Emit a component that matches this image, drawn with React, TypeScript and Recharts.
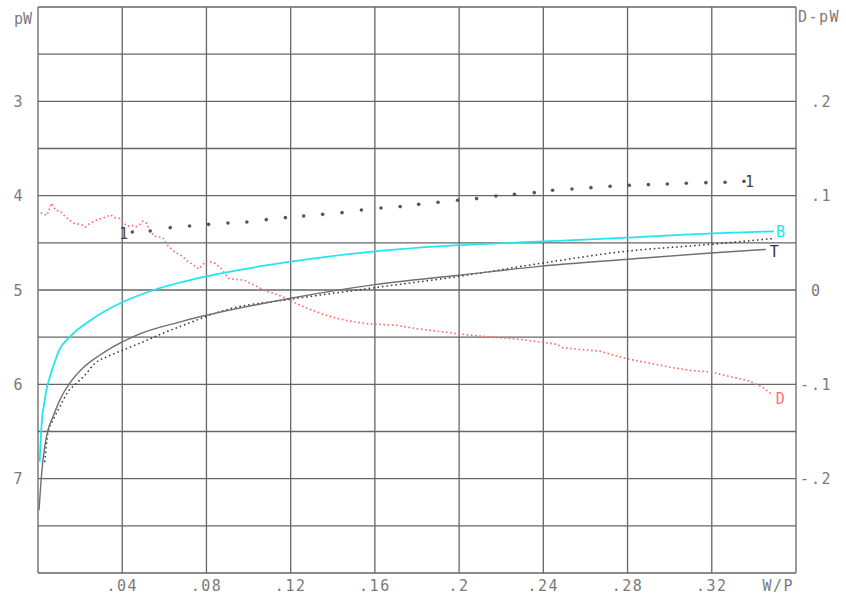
import React from "react";
import { LineChart, Line, XAxis, YAxis, CartesianGrid } from "recharts";

// W/P ticks, the last one carries the axis name
const xTicks = [0, 0.04, 0.08, 0.12, 0.16, 0.2, 0.24, 0.28, 0.32, 0.36];
const xTickLabels = ["", ".04", ".08", ".12", ".16", ".2", ".24", ".28", ".32", "W/P"];
const leftTicks = [2, 2.5, 3, 3.5, 4, 4.5, 5, 5.5, 6, 6.5, 7, 7.5, 8];
const rightTicks = [-0.3, -0.25, -0.2, -0.15, -0.1, -0.05, 0, 0.05, 0.1, 0.15, 0.2, 0.25, 0.3];

// B (cyan)
const bX = [0.0008, 0.0015, 0.002, 0.003, 0.004, 0.005, 0.0065, 0.008, 0.01, 0.015, 0.025, 0.04, 0.055, 0.08, 0.1, 0.12, 0.16, 0.2, 0.24, 0.28, 0.32, 0.3495];
const bPw = [6.82, 6.5, 6.35, 6.2, 6.06, 5.97, 5.86, 5.76, 5.64, 5.5, 5.32, 5.13, 5.0, 4.855, 4.77, 4.7, 4.59, 4.525, 4.485, 4.445, 4.4, 4.378];

// T (solid gray)
const tX = [0.0005, 0.0016, 0.0032, 0.0047, 0.0071, 0.0103, 0.015, 0.0212, 0.0293, 0.04, 0.0467, 0.0672, 0.1194, 0.16, 0.2, 0.238, 0.279, 0.3195, 0.3456];
const tPw = [7.335, 6.98, 6.66, 6.488, 6.346, 6.17, 5.99, 5.83, 5.692, 5.551, 5.48, 5.34, 5.09, 4.943, 4.844, 4.749, 4.676, 4.608, 4.57];

// dotted black curve
const aX = [0.0032, 0.0047, 0.0071, 0.0095, 0.0119, 0.0142, 0.0182, 0.0222, 0.0269, 0.0325, 0.04, 0.0483, 0.0592, 0.0672, 0.091, 0.1194, 0.16, 0.2, 0.238, 0.279, 0.3195, 0.3488];
const aPw = [6.824, 6.52, 6.38, 6.275, 6.17, 6.08, 5.99, 5.905, 5.78, 5.71, 5.64, 5.565, 5.46, 5.39, 5.2, 5.1, 4.975, 4.855, 4.72, 4.59, 4.516, 4.455];

// series 1 (big dots)
const oneX = [0.0448, 0.0533, 0.0628, 0.072, 0.081, 0.0902, 0.0992, 0.1084, 0.1175, 0.1262, 0.1352, 0.1444, 0.1536, 0.1629, 0.172, 0.1808, 0.19, 0.1993, 0.2083, 0.2175, 0.2263, 0.2357, 0.2444, 0.2536, 0.2626, 0.2717, 0.2808, 0.2899, 0.2989, 0.3079, 0.3172, 0.3263, 0.3353];
const onePw = [4.385, 4.375, 4.339, 4.322, 4.304, 4.29, 4.279, 4.254, 4.233, 4.216, 4.198, 4.18, 4.152, 4.131, 4.116, 4.092, 4.07, 4.049, 4.031, 4.004, 3.986, 3.968, 3.943, 3.929, 3.915, 3.901, 3.89, 3.883, 3.876, 3.869, 3.862, 3.858, 3.848];

// D (red, right axis)
const dX = [0.0013, 0.0043, 0.0064, 0.0084, 0.0106, 0.0123, 0.0166, 0.0206, 0.0226, 0.0245, 0.0285, 0.0325, 0.0344, 0.0364, 0.0384, 0.0403, 0.0424, 0.0446, 0.0464, 0.0483, 0.0498, 0.0517, 0.0527, 0.0554, 0.0593, 0.0612, 0.0649, 0.0685, 0.0704, 0.0728, 0.0764, 0.078, 0.0799, 0.0838, 0.087, 0.0906, 0.0949, 0.0981, 0.1005, 0.1039, 0.1079, 0.1123, 0.1171, 0.1218, 0.1274, 0.1345, 0.1408, 0.1479, 0.1558, 0.1637, 0.1701, 0.1795, 0.189, 0.1985, 0.2096, 0.2191, 0.2301, 0.2381, 0.2467, 0.2491, 0.2586, 0.2665, 0.2744, 0.2808, 0.2903, 0.2997, 0.3092, 0.3195, 0.3282, 0.3377, 0.344, 0.348];
const dDiff = [0.082, 0.079, 0.092, 0.0845, 0.0834, 0.0792, 0.071, 0.0693, 0.0668, 0.0704, 0.0749, 0.0774, 0.0799, 0.0767, 0.0763, 0.0721, 0.0675, 0.0686, 0.0668, 0.0693, 0.0731, 0.0704, 0.064, 0.0569, 0.0555, 0.0481, 0.0403, 0.036, 0.0315, 0.028, 0.0223, 0.0262, 0.0307, 0.0286, 0.0227, 0.0121, 0.011, 0.0103, 0.0074, 0.0039, -0.0011, -0.0038, -0.0081, -0.0134, -0.0191, -0.025, -0.0293, -0.0329, -0.0356, -0.0367, -0.0374, -0.0409, -0.0435, -0.0462, -0.0488, -0.0505, -0.0526, -0.0551, -0.0576, -0.0611, -0.0632, -0.0647, -0.0696, -0.0735, -0.0774, -0.0816, -0.0852, -0.0869, -0.0915, -0.0965, -0.1028, -0.1098];

const zip = (xs: number[], vs: number[]) => xs.map((x, i) => ({ x, v: vs[i] }));
const bData = zip(bX, bPw);
const tData = zip(tX, tPw);
const aData = zip(aX, aPw);
const oneData = zip(oneX, onePw);
const dData = zip(dX, dDiff);

const FONT = "DejaVu Sans Mono";
const TXT = "#7a7a7a";

const LeftTick = (props: any) => {
  const { y, payload } = props;
  const v = payload.value;
  if (v === 2) {
    return (
      <text x={23} y={y + 17} textAnchor="middle" fontFamily={FONT} fontSize={15} fill={TXT}>
        pW
      </text>
    );
  }
  if (!Number.isInteger(v) || v === 8) return null;
  return (
    <text x={18} y={y + 5.5} textAnchor="middle" fontFamily={FONT} fontSize={15} fill={TXT}>
      {v}
    </text>
  );
};

const RightTick = (props: any) => {
  const { y, payload } = props;
  const v = Math.round(payload.value * 100) / 100;
  if (v === 0.3) {
    return (
      <text x={798} y={y + 15} fontFamily={FONT} fontSize={15} fill={TXT} letterSpacing={1.5}>
        D-pW
      </text>
    );
  }
  if (Math.abs(v * 10 - Math.round(v * 10)) > 0.001 || Math.abs(v) > 0.25) return null;
  const body = v === 0 ? "0" : "." + Math.abs(Math.round(v * 10));
  return (
    <g fontFamily={FONT} fontSize={15} fill={TXT} letterSpacing={1.5}>
      {v < 0 && (
        <text x={800} y={y + 5.5}>
          -
        </text>
      )}
      <text x={811} y={y + 5.5}>
        {body}
      </text>
    </g>
  );
};

const BottomTick = (props: any) => {
  const { x, payload } = props;
  const i = xTicks.indexOf(payload.value);
  const label = xTickLabels[i] || "";
  if (!label) return null;
  const last = i === xTicks.length - 1;
  return (
    <text
      x={last ? x - 2 : x}
      y={591}
      textAnchor={last ? "end" : "middle"}
      fontFamily={FONT}
      fontSize={15}
      fill={TXT}
      letterSpacing={1.5}
    >
      {label}
    </text>
  );
};

// text next to a series point; offsets keyed by point index
const seriesLabel =
  (text: string, color: string, offsets: Record<number, [number, number]>) =>
  (props: any) => {
    const { x, y, index } = props;
    const off = offsets[index];
    if (!off) return null;
    return (
      <text
        key={`${text}-${index}`}
        x={x + off[0]}
        y={y + off[1]}
        fontFamily={FONT}
        fontSize={15}
        fill={color}
      >
        {text}
      </text>
    );
  };

const App: React.FC = () => {
  return (
    <div style={{ position: "absolute", left: 0, top: 0, background: "#fff" }}>
      <LineChart width={846} height={594} margin={{ top: 7, right: 0, left: 0, bottom: 0 }}>
        <CartesianGrid stroke="#666" strokeWidth={1.3} yAxisId="left" />
        <XAxis
          dataKey="x"
          type="number"
          domain={[0, 0.36]}
          ticks={xTicks}
          interval={0}
          height={21}
          axisLine={false}
          tickLine={false}
          tick={<BottomTick />}
          allowDataOverflow
        />
        <YAxis
          yAxisId="left"
          type="number"
          domain={[2, 8]}
          reversed
          ticks={leftTicks}
          interval={0}
          width={38}
          axisLine={false}
          tickLine={false}
          tick={<LeftTick />}
          allowDataOverflow
        />
        <YAxis
          yAxisId="right"
          orientation="right"
          type="number"
          domain={[-0.3, 0.3]}
          ticks={rightTicks}
          interval={0}
          width={50}
          axisLine={false}
          tickLine={false}
          tick={<RightTick />}
          allowDataOverflow
        />
        <Line
          yAxisId="right"
          data={dData}
          dataKey="v"
          type="linear"
          stroke="#ff6666"
          strokeWidth={1.6}
          strokeDasharray="1.6 2.6"
          dot={false}
          isAnimationActive={false}
          label={seriesLabel("D", "#ff7070", { [dData.length - 1]: [5, 10] })}
        />
        <Line
          yAxisId="left"
          data={oneData}
          dataKey="v"
          stroke="none"
          dot={{ r: 1.8, fill: "#555", stroke: "none" }}
          isAnimationActive={false}
          label={seriesLabel("1", "#444", { 0: [-13, 7], [oneData.length - 1]: [1, 6] })}
        />
        <Line
          yAxisId="left"
          data={aData}
          dataKey="v"
          type="monotone"
          stroke="#333"
          strokeWidth={1.5}
          strokeDasharray="1.5 3"
          dot={false}
          isAnimationActive={false}
        />
        <Line
          yAxisId="left"
          data={tData}
          dataKey="v"
          type="monotone"
          stroke="#707070"
          strokeWidth={1.4}
          dot={false}
          isAnimationActive={false}
          label={seriesLabel("T", "#333", { [tData.length - 1]: [4, 8] })}
        />
        <Line
          yAxisId="left"
          data={bData}
          dataKey="v"
          type="monotone"
          stroke="#22e6ee"
          strokeWidth={1.8}
          dot={false}
          isAnimationActive={false}
          label={seriesLabel("B", "#22e6ee", { [bData.length - 1]: [2, 6] })}
        />
      </LineChart>
    </div>
  );
};

export default App;
